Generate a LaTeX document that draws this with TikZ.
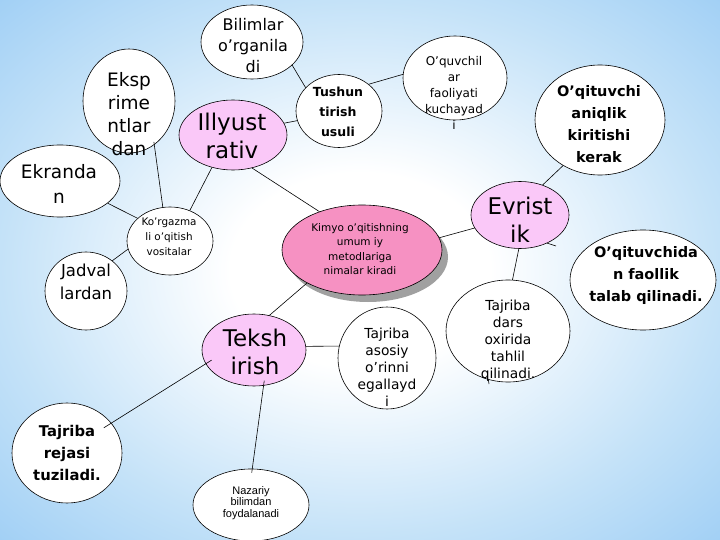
\documentclass[tikz,border=0pt]{standalone}
\usepackage{fontspec}
\setmainfont{DejaVu Sans}
\newfontfamily\arialf{Liberation Sans}
\usetikzlibrary{shapes.geometric,calc}
\definecolor{bgblue}{RGB}{160,207,245}
\definecolor{bgmid}{RGB}{196,226,248}
\definecolor{pinkA}{RGB}{250,200,248}
\definecolor{pinkB}{RGB}{246,145,194}
\definecolor{shadowgray}{RGB}{160,160,160}
\pgfdeclareradialshading{bgshade}{\pgfpoint{0bp}{0bp}}{color(0bp)=(white); color(9bp)=(white); color(25bp)=(bgmid); color(36bp)=(bgblue); color(50bp)=(bgblue)}
\tikzset{
 bub/.style={ellipse, draw=black, line width=0.6pt, fill=white, inner sep=0pt},
 pinkbub/.style={bub, fill=pinkA},
 txt/.style={align=center, inner sep=0pt, text=black},
 link/.style={draw=black, line width=0.6pt},
}
\newcommand{\fsz}[2]{\fontsize{#1}{#2}\selectfont}
\begin{document}
\begin{tikzpicture}[x=1pt,y=-1pt]
\useasboundingbox (0,0) rectangle (720,540);
\shade[shading=bgshade] (0,0) rectangle (720,540);
% bubbles
\node[bub, minimum width=102pt, minimum height=74pt] (bil) at (252,42) {};
\node[bub, minimum width=92pt, minimum height=104pt] (eks) at (129,101) {};
\node[bub, minimum width=120pt, minimum height=72pt] (ekr) at (60,181) {};
\node[pinkbub, minimum width=108pt, minimum height=70pt] (ill) at (233,135) {};
\node[bub, minimum width=86pt, minimum height=73pt] (tus) at (339,111) {};
\node[bub, minimum width=86pt, minimum height=68pt] (kor) at (170,241) {};
\node[ellipse, fill=shadowgray, inner sep=0pt, minimum width=160pt, minimum height=90pt] (kimsh) at (368,257) {};
\node[bub, fill=pinkB, minimum width=160pt, minimum height=90pt] (kim) at (362,250) {};
\node[bub, minimum width=104pt, minimum height=84pt] (oqu) at (455,78) {};
\node[bub, minimum width=130pt, minimum height=110pt] (oqa) at (600,120) {};
\node[pinkbub, minimum width=98pt, minimum height=67pt] (evr) at (520,215) {};
\node[bub, minimum width=146pt, minimum height=100pt] (oqd) at (643,280) {};
\node[bub, minimum width=82pt, minimum height=78pt] (jad) at (86,291) {};
\node[pinkbub, minimum width=104pt, minimum height=72pt] (tek) at (254,350) {};
\node[bub, minimum width=98pt, minimum height=102pt] (tas) at (387,358) {};
\node[bub, minimum width=124pt, minimum height=102pt] (tad) at (508,331) {};
\node[bub, minimum width=110pt, minimum height=100pt] (tar) at (67,453) {};
\node[bub, minimum width=116pt, minimum height=72pt] (naz) at (251,505) {};
\coordinate (evrstub) at (556,246);
\coordinate (tadstub) at (489,384);
% connectors
\draw[link] (bil.-30) -- (tus.145);
\draw[link] (tus.193) -- (ill.13);
\draw[link] (tus.42) -- (oqu.176);
\draw[link, shorten <=-3pt] (eks.-60) -- (kor.102);
\draw[link] (ill.-123) -- (kor.57);
\draw[link] (ill.-60) -- (kim.138);
\draw[link] (ekr.-25) -- (kor.145);
\draw[link] (kor.191) -- (jad.49);
\draw[link] (kim.9) -- (evr.196);
\draw[link] (evr.-92) -- (tad.85);
\draw[link] (oqa.-129) -- (evr.53);
\draw[link] (evr.-46) -- (evrstub);
\draw[link] (kim.-149) -- (tek.66);
\draw[link] (tek.4) -- (tas.166);
\draw[link, shorten <=-7pt, shorten >=-9pt] (tek.-164) -- (tar.34);
\draw[link, shorten <=-5pt, shorten >=-4pt] (tek.-75) -- (naz.88);
\draw[link] (tad.-112) -- (tadstub);
% texts
\node[txt, font=\fsz{16}{21}] (tbil) at (253,46) {Bilimlar\\o’rganila\\di};
\node[txt, font=\fsz{18.5}{23}] (teks) at (129,114) {Eksp\\rime\\ntlar\\dan};
\node[txt, font=\fsz{18.5}{25}] (tekr) at (59,184) {Ekranda\\n};
\node[txt, font=\fsz{23}{28}] (till) at (232,136) {Illyust\\rativ};
\node[txt, font=\bfseries\fsz{12.5}{20}] (ttus) at (338,112) {Tushun\\tirish\\usuli};
\node[txt, font=\fsz{10.4}{15}] (tkor) at (169,237) {Ko'rgazma\\li o'qitish\\vositalar};
\node[txt, font=\fsz{10.5}{14.5}] (tkim) at (360,249) {Kimyo o'qitishning\\umum iy\\metodlariga\\nimalar kiradi};
\node[txt, font=\fsz{12}{16}] (toqu) at (454,93) {O’quvchil\\ar\\faoliyati\\kuchayad\\i};
\node[txt, font=\bfseries\fsz{14.5}{22}] (toqa) at (599,124) {O’qituvchi\\aniqlik\\kiritishi\\kerak};
\node[txt, font=\fsz{23}{28}] (tevr) at (520,220) {Evrist\\ik};
\node[txt, font=\bfseries\fsz{14.5}{22}] (toqd) at (646,275) {O’qituvchida\\n faollik\\talab qilinadi.};
\node[txt, font=\fsz{16.5}{23}] (tjad) at (86,282) {Jadval\\lardan};
\node[txt, font=\fsz{23}{28}] (ttek) at (255,352) {Teksh\\irish};
\node[txt, font=\fsz{13.8}{17}] (ttas) at (387,367) {Tajriba\\asosiy\\o’rinni\\egallayd\\i};
\node[txt, font=\fsz{13.8}{17}] (ttad) at (508,341) {Tajriba\\dars\\oxirida\\tahlil\\qilinadi.};
\node[txt, font=\bfseries\fsz{14.8}{22}] (ttar) at (67,453) {Tajriba\\rejasi\\tuziladi.};
\node[txt, font=\arialf\fsz{11}{11.7}] (tnaz) at (251,503) {Nazariy\\bilimdan\\foydalanadi};
\end{tikzpicture}
\end{document}
